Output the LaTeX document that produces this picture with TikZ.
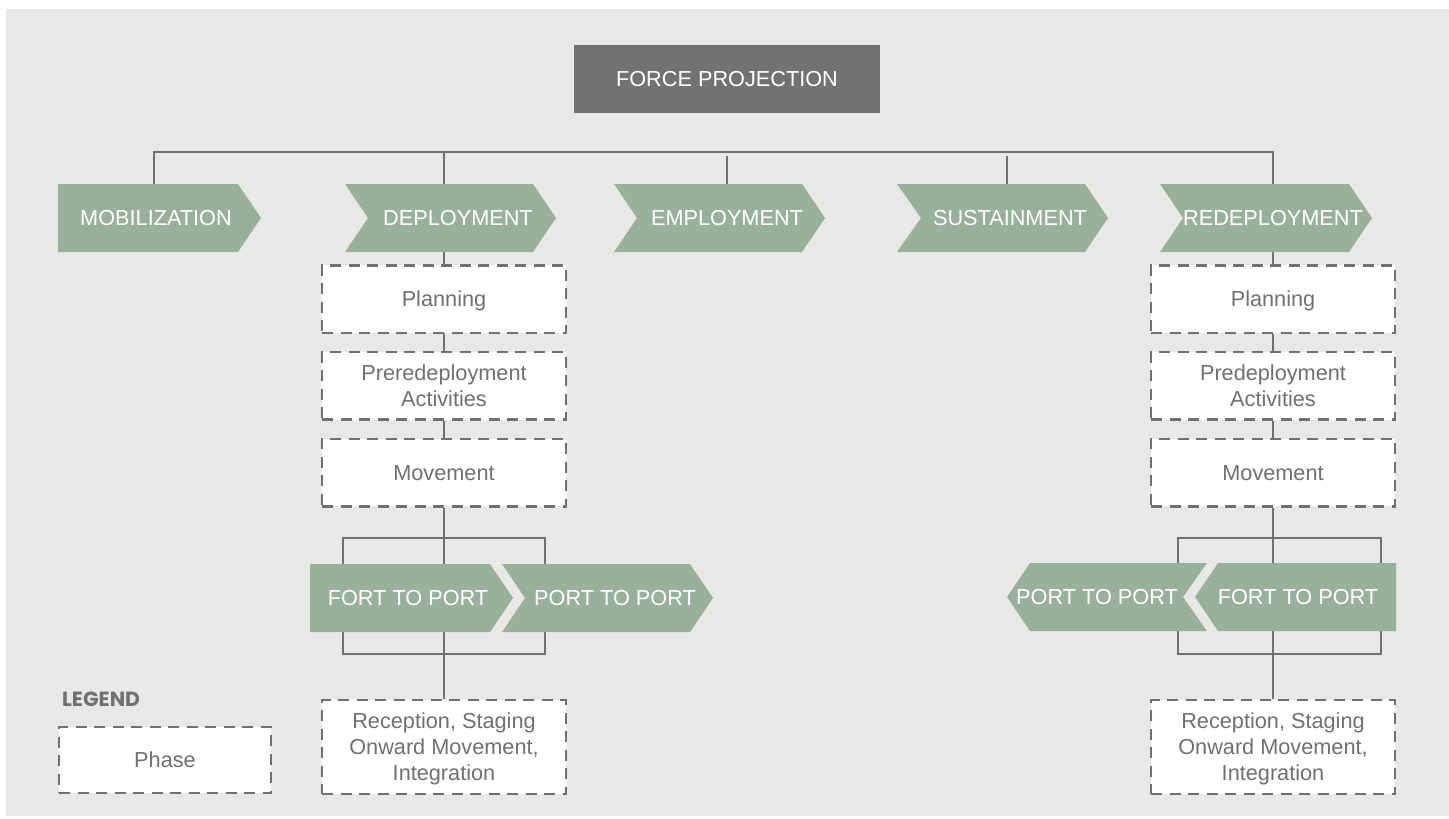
\documentclass[tikz,border=0pt]{standalone}
\usepackage{fontspec}
\setmainfont{Liberation Sans}
\newfontfamily\legendfont{Poppins}

\definecolor{pagegray}{HTML}{E8E8E6}
\definecolor{sage}{HTML}{99B09B}
\definecolor{darkbox}{HTML}{727272}
\definecolor{wire}{HTML}{707070}
\definecolor{ink}{HTML}{707070}

\pgfdeclarelayer{canvas}
\pgfdeclarelayer{wires}
\pgfsetlayers{canvas,wires,main}

% right-pointing chevron: left x, tip x, top y, notch depth (0 = flat left)
\newcommand\rchev[4]{%
  \fill[sage] (#1,#3) -- ({#2-23},#3) -- (#2,{#3+34}) -- ({#2-23},{#3+68})
    -- (#1,{#3+68}) -- ({#1+#4},{#3+34}) -- cycle;}
% left-pointing chevron: tip x, right x, top y, notch depth (0 = flat right)
\newcommand\lchev[4]{%
  \fill[sage] (#1,{#3+34}) -- ({#1+23},#3) -- (#2,#3) -- ({#2-#4},{#3+34})
    -- (#2,{#3+68}) -- ({#1+23},{#3+68}) -- cycle;}

\tikzset{
  conn/.style={draw=wire, line width=2.2pt},
  chevtext/.style={text=white, font=\fontsize{21.7}{26}\selectfont,
    minimum height=68pt, inner sep=0pt},
  topbox/.style={fill=darkbox, text=white, font=\fontsize{21.7}{26}\selectfont,
    minimum width=306pt, minimum height=68pt, inner sep=0pt},
  phasebox/.style={draw=ink, line width=2.5pt, dash pattern=on 11pt off 7.5pt,
    fill=white, text=ink, font=\fontsize{21.7}{26}\selectfont, align=center,
    minimum width=244pt, minimum height=67.5pt, inner sep=0pt, text depth=0pt},
  oneline/.style={text height=15.5pt},
  legendtitle/.style={text=ink, font=\legendfont\bfseries\fontsize{20.5}{24}\selectfont,
    inner sep=0pt, anchor=base west},
}

\begin{document}
\begin{tikzpicture}[x=1pt, y=-1pt]
\useasboundingbox (0,0) rectangle (1449,819);
\begin{pgfonlayer}{canvas}
  \fill[white] (0,0) rectangle (1449,819);
  \fill[pagegray] (6,9) rectangle (1449,816);
\end{pgfonlayer}

% title
\node[topbox] (force) at (727,79) {FORCE PROJECTION};

% phase chevrons
\rchev{58}{261}{184}{0}
\rchev{345}{556}{184}{23}
\rchev{614}{825}{184}{23}
\rchev{897}{1108}{184}{24}
\rchev{1160}{1372}{184}{23}
\node[chevtext] (mob)   at (156,218)  {MOBILIZATION};
\node[chevtext] (dep)   at (458,218)  {DEPLOYMENT};
\node[chevtext] (emp)   at (727,218)  {EMPLOYMENT};
\node[chevtext] (sus)   at (1010,218) {SUSTAINMENT};
\node[chevtext] (redep) at (1273,218) {REDEPLOYMENT};

% deployment column
\node[phasebox, oneline] (planA) at (444,299)   {Planning};
\node[phasebox]          (preA)  at (444,385.75) {Preredeployment\\Activities};
\node[phasebox, oneline] (movA)  at (444,472.5) {Movement};
\node[phasebox, minimum height=94pt] (recA) at (444,747)
  {Reception, Staging\\Onward Movement,\\Integration};

% redeployment column
\node[phasebox, oneline] (planB) at (1273,299)   {Planning};
\node[phasebox]          (preB)  at (1273,385.75) {Predeployment\\Activities};
\node[phasebox, oneline] (movB)  at (1273,472.5) {Movement};
\node[phasebox, minimum height=94pt] (recB) at (1273,747)
  {Reception, Staging\\Onward Movement,\\Integration};

% movement legs, deployment
\rchev{310}{513}{564}{0}
\rchev{502}{713}{564}{23}
\node[chevtext] (fpA) at (408,598) {FORT TO PORT};
\node[chevtext] (ppA) at (615,598) {PORT TO PORT};

% movement legs, redeployment
\lchev{1007}{1207}{563}{24}
\lchev{1195}{1396}{563}{0}
\node[chevtext] (ppB) at (1097,597) {PORT TO PORT};
\node[chevtext] (fpB) at (1298,597) {FORT TO PORT};

% legend
\node[legendtitle] (legend) at (62,706) {LEGEND};
\node[phasebox, oneline, minimum width=212pt, minimum height=66pt] (phase)
  at (165,760) {Phase};

% connectors
\coordinate (busL) at (154,152);
\coordinate (busD) at (444,152);
\coordinate (busE) at (727,156);
\coordinate (busS) at (1007,156);
\coordinate (busR) at (1273,152);
\coordinate (brA1) at (343,538);
\coordinate (brA2) at (545,654);
\coordinate (brB1) at (1178,538);
\coordinate (brB2) at (1381,654);
\begin{pgfonlayer}{wires}
  \draw[conn] (busL |- mob.north) -- (busL) -- (busR) -- (redep.north);
  \draw[conn] (busD) -- (busD |- dep.north);
  \draw[conn] (busE) -- (emp.north);
  \draw[conn] (busS) -- (busS |- sus.north);

  \draw[conn] (busD |- dep.south) -- (planA.north);
  \draw[conn] (planA.south) -- (preA.north);
  \draw[conn] (preA.south) -- (movA.north);
  \draw[conn] (movA.south) -- (recA.north);
  \draw[conn] (brA1) rectangle (brA2);

  \draw[conn] (redep.south) -- (planB.north);
  \draw[conn] (planB.south) -- (preB.north);
  \draw[conn] (preB.south) -- (movB.north);
  \draw[conn] (movB.south) -- (recB.north);
  \draw[conn] (brB1) rectangle (brB2);
\end{pgfonlayer}
\end{tikzpicture}
\end{document}
